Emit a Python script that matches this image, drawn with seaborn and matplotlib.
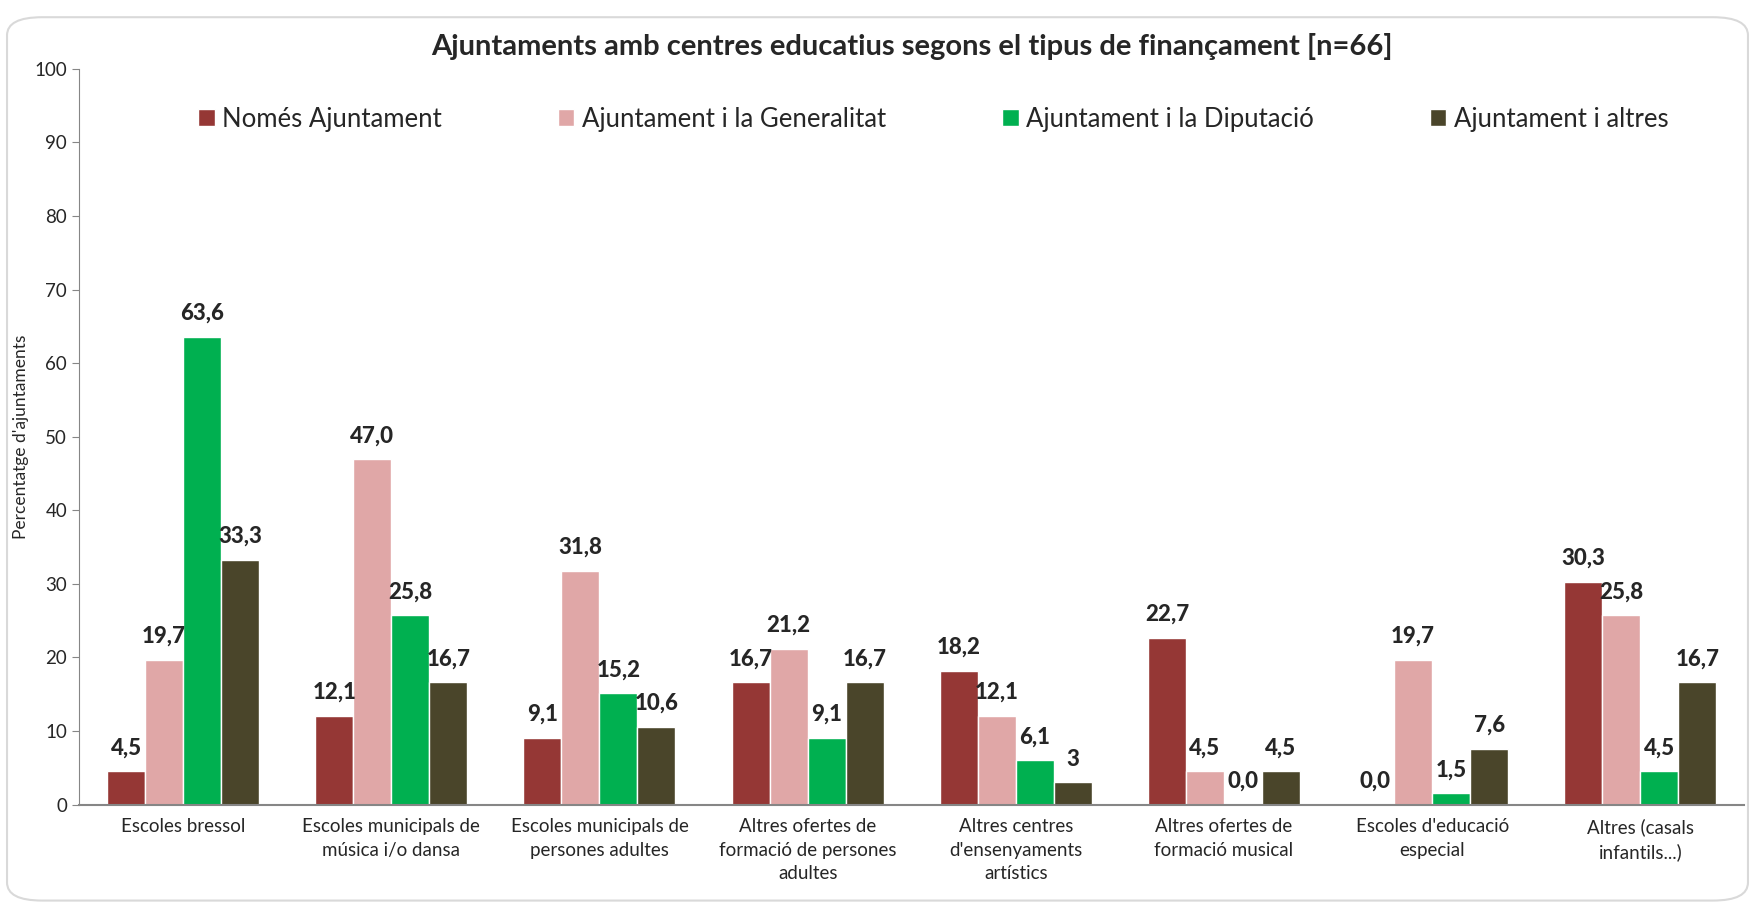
import pandas as pd
import matplotlib.pyplot as plt
import seaborn as sns
from matplotlib.patches import FancyBboxPatch

# Data
categories = [
    "Escoles bressol",
    "Escoles municipals de\nmúsica i/o dansa",
    "Escoles municipals de\npersones adultes",
    "Altres ofertes de\nformació de persones\nadultes",
    "Altres centres\nd'ensenyaments\nartístics",
    "Altres ofertes de\nformació musical",
    "Escoles d'educació\nespecial",
    "Altres (casals\ninfantils...)",
]
series = ["Només Ajuntament", "Ajuntament i la Generalitat",
          "Ajuntament i la Diputació", "Ajuntament i altres"]
nomes_ajuntament = [4.5, 12.1, 9.1, 16.7, 18.2, 22.7, 0.0, 30.3]
amb_generalitat = [19.7, 47.0, 31.8, 21.2, 12.1, 4.5, 19.7, 25.8]
amb_diputacio = [63.6, 25.8, 15.2, 9.1, 6.1, 0.0, 1.5, 4.5]
amb_altres = [33.3, 16.7, 10.6, 16.7, 3.0, 4.5, 7.6, 16.7]
label_text = {
    "Ajuntament i altres": ["33,3", "16,7", "10,6", "16,7", "3", "4,5", "7,6", "16,7"],
}

colors = {"Només Ajuntament": "#953735", "Ajuntament i la Generalitat": "#E0A7A7",
          "Ajuntament i la Diputació": "#00B050", "Ajuntament i altres": "#4A452A"}

rows = []
for s, vals in zip(series, [nomes_ajuntament, amb_generalitat, amb_diputacio, amb_altres]):
    for c, v in zip(categories, vals):
        rows.append({"categoria": c, "serie": s, "valor": v})
df = pd.DataFrame(rows)

sns.set_style("white")
plt.rcParams['font.family'] = ['Lato', 'DejaVu Sans']

fig = plt.figure(figsize=(17.55, 9.06), dpi=100)
ax = fig.add_axes([0.045, 0.112, 0.949, 0.812])

# rounded frame around the chart
fig.patches.append(FancyBboxPatch((0.004, 0.006), 0.992, 0.975, transform=fig.transFigure,
                                  boxstyle="round,pad=0,rounding_size=0.02",
                                  fc="none", ec="#d9d9d9", lw=1.5))

sns.barplot(data=df, x="categoria", y="valor", hue="serie", palette=colors,
            width=0.73, saturation=1, ax=ax, legend=True)

# value labels
for container, s in zip(ax.containers, series):
    vals = df[df["serie"] == s]["valor"].tolist()
    texts = label_text.get(s, [f"{v:.1f}".replace(".", ",") for v in vals])
    ax.bar_label(container, labels=texts, padding=9, fontsize=16, fontweight="black")

ax.set_ylim(0, 100)
ax.set_yticks(range(0, 101, 10))
ax.set_xlim(-0.5, len(categories) - 0.5)
ax.set_xlabel("")
ax.set_ylabel("Percentatge d'ajuntaments", fontsize=12.5)
ax.tick_params(axis="x", labelsize=13.5, length=0, pad=10)
ax.tick_params(axis="y", labelsize=13.5, length=5, color="#868686", left=True)
for lbl in ax.get_xticklabels():
    lbl.set_linespacing(1.45)
for side in ["top", "right"]:
    ax.spines[side].set_visible(False)
for side in ["left", "bottom"]:
    ax.spines[side].set_color("#868686")
ax.spines["bottom"].set_linewidth(1.5)

ax.set_title("Ajuntaments amb centres educatius segons el tipus de finançament [n=66]",
             fontsize=21, fontweight="bold", pad=10)

ax.legend(loc="upper center", bbox_to_anchor=(0.513, 0.98), ncol=4, frameon=False,
          fontsize=18.5, handlelength=0.65, handleheight=0.65, handletextpad=0.3,
          columnspacing=4.5, title=None)

plt.savefig("out.png", dpi=100)
